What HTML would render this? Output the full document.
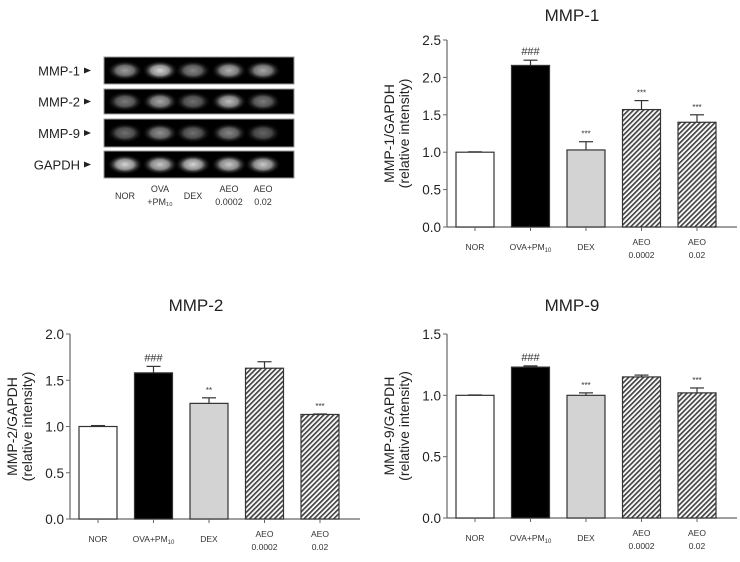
<!DOCTYPE html>
<html><head><meta charset="utf-8"><style>
body{margin:0;background:#fff;}
svg{display:block;font-family:"Liberation Sans",Arial,sans-serif;}
</style></head><body>
<svg id="s" width="740" height="562" viewBox="0 0 740 562">
<defs>
<pattern id="hatch" patternUnits="userSpaceOnUse" width="3.5" height="3.5" patternTransform="rotate(45)">
<rect width="3.5" height="3.5" fill="#fff"/><rect width="1.7" height="3.5" fill="#444"/></pattern>
<radialGradient id="band"><stop offset="0" stop-color="#e0e0e0"/><stop offset="0.5" stop-color="#999"/><stop offset="1" stop-color="#000" stop-opacity="0"/></radialGradient>
</defs>
<g id="gel"></g>
</svg>
<script>
const NS="http://www.w3.org/2000/svg";
const svg=document.getElementById('s');
function el(t,a,p){const e=document.createElementNS(NS,t);for(const k in a)e.setAttribute(k,a[k]);(p||svg).appendChild(e);return e;}

// Gel data
const gelRows=["MMP-1","MMP-2","MMP-9","GAPDH"];
const gelIntensity=[[0.7,0.95,0.6,0.8,0.75],[0.55,0.75,0.5,0.85,0.55],[0.5,0.65,0.5,0.6,0.45],[0.95,0.9,0.95,0.9,0.9]];
const gel=document.getElementById('gel');
const rowY=[[57,84],[89,114],[119,147],[151,178]];
const laneX=[125,160,193,229,263];
rowY.forEach((r,i)=>{
  const box=el('rect',{x:104,y:r[0],width:190,height:r[1]-r[0],fill:'#000',stroke:'#999','stroke-width':1},gel);
  
  
  const t=el('text',{x:80,y:(r[0]+r[1])/2+5,'text-anchor':'end','font-size':13,fill:'#222'},gel);t.textContent=gelRows[i];
  
  
  el('path',{d:`M84 ${(r[0]+r[1])/2-3} L91 ${(r[0]+r[1])/2} L84 ${(r[0]+r[1])/2+3}Z`,fill:'#222'},gel);
  laneX.forEach((x,j)=>{
    const b=el('ellipse',{cx:x,cy:(r[0]+r[1])/2,rx:18,ry:10,fill:'url(#band)',opacity:gelIntensity[i][j]},gel);
    
    
  });
});
const gelLab=[["NOR",""],["OVA","+PM₁₀"],["DEX",""],["AEO","0.0002"],["AEO","0.02"]];
gelLab.forEach((l,j)=>{
  const single=!l[1];
  const t=el('text',{x:laneX[j],y:single?199:192,'text-anchor':'middle','font-size':9,fill:'#333'},gel);t.textContent=l[0];
  
  
  if(!single){const t2=el('text',{x:laneX[j],y:205,'text-anchor':'middle','font-size':9,fill:'#333'},gel);t2.textContent=l[1];
  
  }
});

// Chart data
const categories=["NOR","OVA+PM10","DEX","AEO 0.0002","AEO 0.02"];
const mmp1Values=[1.0,2.16,1.03,1.57,1.40];
const mmp1Errors=[0.005,0.07,0.11,0.12,0.10];
const mmp1Marks=["","###","***","***","***"];
const mmp2Values=[1.0,1.58,1.25,1.63,1.13];
const mmp2Errors=[0.01,0.07,0.06,0.07,0.005];
const mmp2Marks=["","###","**","","***"];
const mmp9Values=[1.0,1.23,1.0,1.15,1.02];
const mmp9Errors=[0.003,0.01,0.02,0.015,0.04];
const mmp9Marks=["","###","***","","***"];
const mmp1Ticks=["0.0","0.5","1.0","1.5","2.0","2.5"];
const mmp2Ticks=["0.0","0.5","1.0","1.5","2.0"];
const mmp9Ticks=["0.0","0.5","1.0","1.5"];
const fills=['#fff','#000','#d3d3d3','url(#hatch)','url(#hatch)'];

function chart(cfg){
  const g=el('g',{});
  
  
  const ymax=parseFloat(cfg.ticks[cfg.ticks.length-1]);
  const y=v=>cfg.y0-(v/ymax)*(cfg.y0-cfg.y1);
  const x=i=>cfg.x0+9+i*55.5;
  const bw=38;
  const tt=el('text',{x:cfg.tx,y:cfg.ty,'text-anchor':'middle','font-size':17,fill:'#222'},g);tt.textContent=cfg.title;
  
  
  const yl=el('text',{transform:`translate(${cfg.x0-53},${(cfg.y0+cfg.y1)/2}) rotate(-90)`,'text-anchor':'middle','font-size':14,fill:'#222'},g);
  
  
  const a=el('tspan',{x:0,dy:0},yl);a.textContent=cfg.ylabel;
  const b=el('tspan',{x:0,dy:15},yl);b.textContent="(relative intensity)";
  el('line',{x1:cfg.x0,y1:cfg.y1,x2:cfg.x0,y2:cfg.y0,stroke:'#666','stroke-width':1.2},g);
  el('line',{x1:cfg.x0,y1:cfg.y0,x2:cfg.x0+290,y2:cfg.y0,stroke:'#666','stroke-width':1.2},g);
  cfg.ticks.forEach(tk=>{
    const v=parseFloat(tk),yy=y(v);
    el('line',{x1:cfg.x0-4,y1:yy,x2:cfg.x0,y2:yy,stroke:'#666'},g);
    const t=el('text',{x:cfg.x0-6,y:yy+5,'text-anchor':'end','font-size':13.5,fill:'#222'},g);t.textContent=tk;
    
    
  });
  cfg.values.forEach((v,i)=>{
    const xx=x(i),top=y(v),et=y(v+cfg.errors[i]);
    el('line',{x1:xx+bw/2,y1:et,x2:xx+bw/2,y2:top,stroke:'#333','stroke-width':1.2},g);
    el('line',{x1:xx+bw/2-7,y1:et,x2:xx+bw/2+7,y2:et,stroke:'#333','stroke-width':1.2},g);
    const r=el('rect',{x:xx,y:top,width:bw,height:cfg.y0-top,fill:fills[i],stroke:'#333','stroke-width':1.2},g);
    
    
    el('line',{x1:xx+bw/2,y1:cfg.y0,x2:xx+bw/2,y2:cfg.y0+4,stroke:'#666'},g);
    if(cfg.marks[i]){const m=el('text',{x:xx+bw/2,y:et-5,'text-anchor':'middle','font-size':cfg.marks[i][0]=='#'?11:8,fill:'#333'},g);m.textContent=cfg.marks[i];
      
      }
    const lab=[["NOR"],["OVA+PM10"],["DEX"],["AEO","0.0002"],["AEO","0.02"]][i];
    lab.forEach((s,k)=>{
      const t=el('text',{x:xx+bw/2,y:cfg.y0+(lab.length==1?23:18)+k*13,'text-anchor':'middle','font-size':8.5,fill:'#333'},g);
      if(s==="OVA+PM10"){t.textContent="OVA+PM";const sb=el('tspan',{'font-size':6,dy:2},t);sb.textContent="10";}
      else t.textContent=s;
      
      
    });
  });
}
chart({name:'mmp1-chart',title:'MMP-1',ylabel:'MMP-1/GAPDH',tx:572,ty:21,x0:447,y0:227,y1:40,ticks:mmp1Ticks,values:mmp1Values,errors:mmp1Errors,marks:mmp1Marks});
chart({name:'mmp2-chart',title:'MMP-2',ylabel:'MMP-2/GAPDH',tx:196,ty:311,x0:70,y0:519,y1:334,ticks:mmp2Ticks,values:mmp2Values,errors:mmp2Errors,marks:mmp2Marks});
chart({name:'mmp9-chart',title:'MMP-9',ylabel:'MMP-9/GAPDH',tx:572,ty:311,x0:447,y0:518,y1:334,ticks:mmp9Ticks,values:mmp9Values,errors:mmp9Errors,marks:mmp9Marks});
</script>
</body></html>
